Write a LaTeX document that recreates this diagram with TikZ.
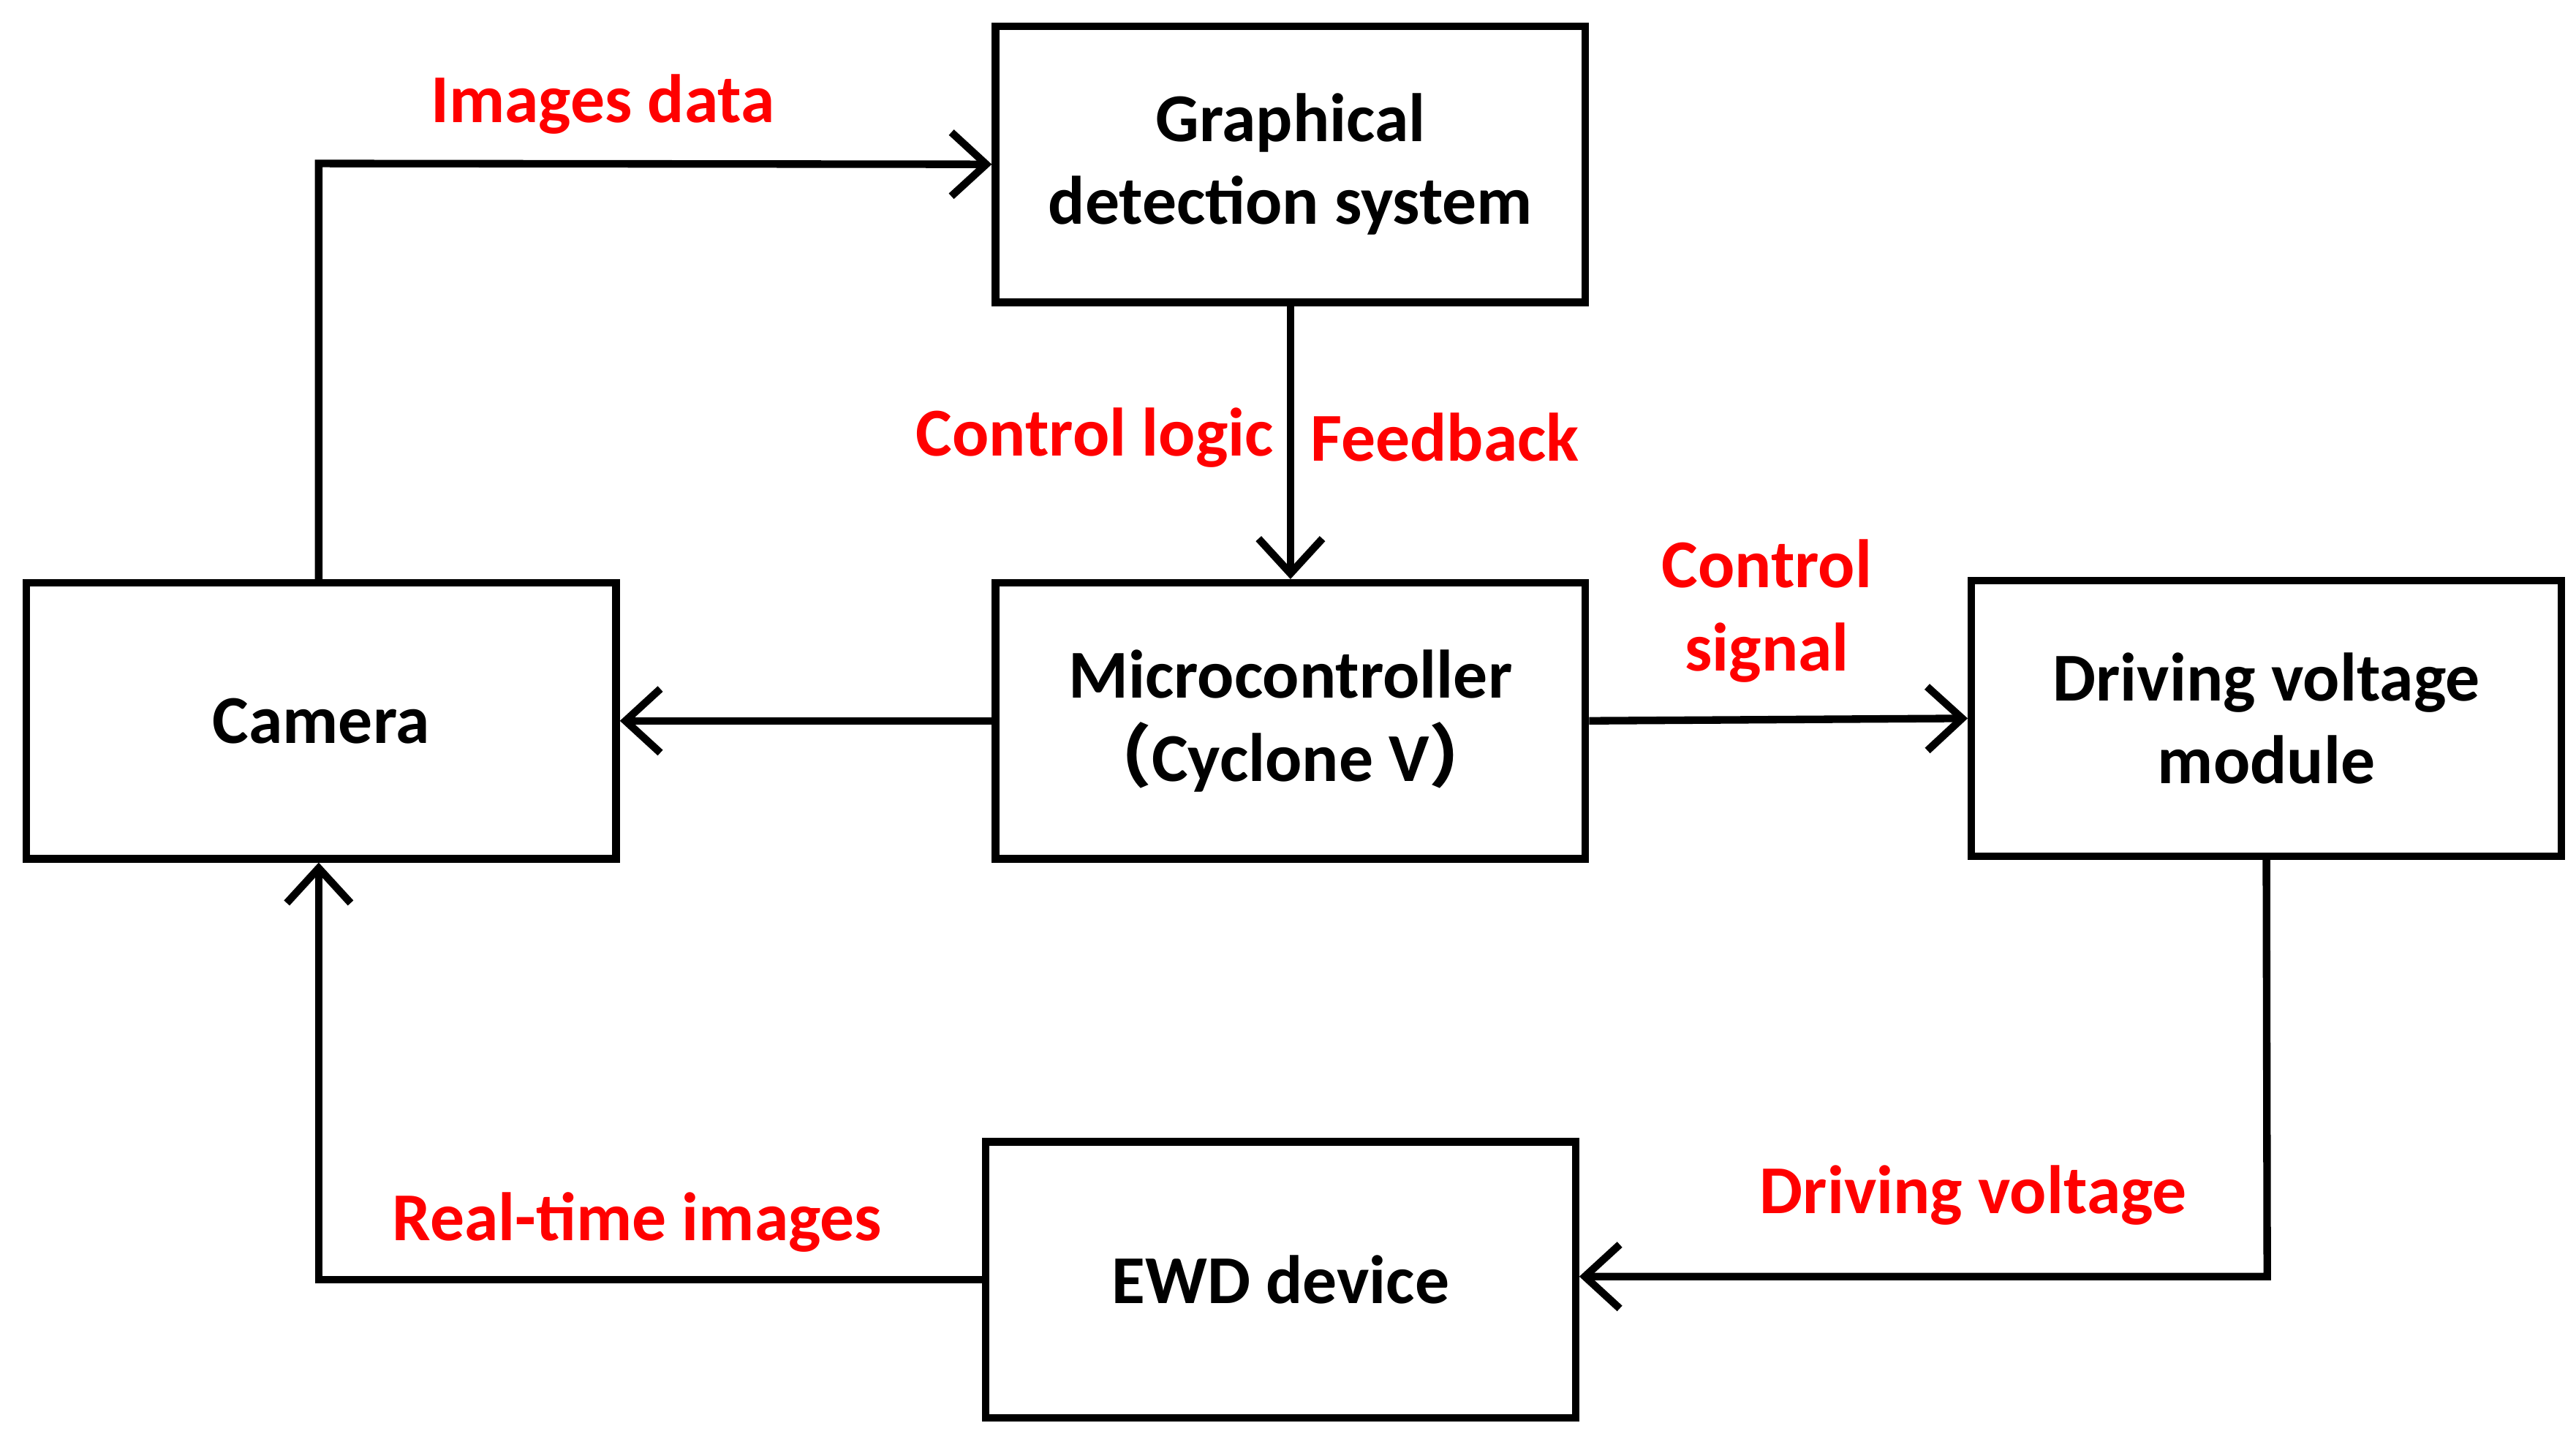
\documentclass[tikz,border=0pt]{standalone}
\usepackage{fontspec}
\setmainfont{Carlito}
\newfontfamily\cjk{Noto Sans CJK SC}
\usetikzlibrary{arrows.meta}
\begin{document}
\begin{tikzpicture}[x=0.01cm,y=-0.01cm,
  box/.style={draw,line width=1.3pt,minimum width=3.57cm,minimum height=1.67cm,align=center,font=\fontsize{11.8}{14.3}\selectfont\bfseries,inner sep=0pt},
  lab/.style={text=red,font=\fontsize{11.8}{14.3}\selectfont\bfseries,align=center,inner sep=0pt},
  conn/.style={line width=1.3pt,-{Straight Barb[length=6pt,width=11pt,line width=1.3pt]}}]
\useasboundingbox (0,0) rectangle (1560,873);
\node[box] (g) at (781.5,99.5) {Graphical\\detection system};
\node[box] (cam) at (194.5,436.5) {Camera};
\node[box] (m) at (781.5,436.5) {Microcontroller\\{\cjk （}Cyclone V{\cjk ）}};
\node[box] (d) at (1372.5,435) {Driving voltage\\module};
\node[box] (e) at (775.5,775) {EWD device};
\coordinate (c1) at (193,99);
\coordinate (c2) at (1373,773);
\coordinate (c3) at (193,775);
\draw[conn] (cam.north -| c1) -- (c1) -- (g.west);
\draw[conn] (g.south) -- (m.north);
\draw[conn] (m.west) -- (cam.east);
\draw[conn] (m.east) -- (d.west);
\draw[conn] (d.south) -- (c2) -- (e.east |- c2);
\draw[conn] (e.west) -- (c3) -- (cam.south -| c3);
\node[lab] (l1) at (365,63) {Images data};
\node[lab] (l2) at (663,265) {Control logic};
\node[lab] (l3) at (875,265) {Feedback};
\node[lab] (l4) at (1070,370) {Control\\signal};
\node[lab] (l5) at (1195,724) {Driving voltage};
\node[lab] (l6) at (386,740) {Real-time images};
\end{tikzpicture}
\end{document}
